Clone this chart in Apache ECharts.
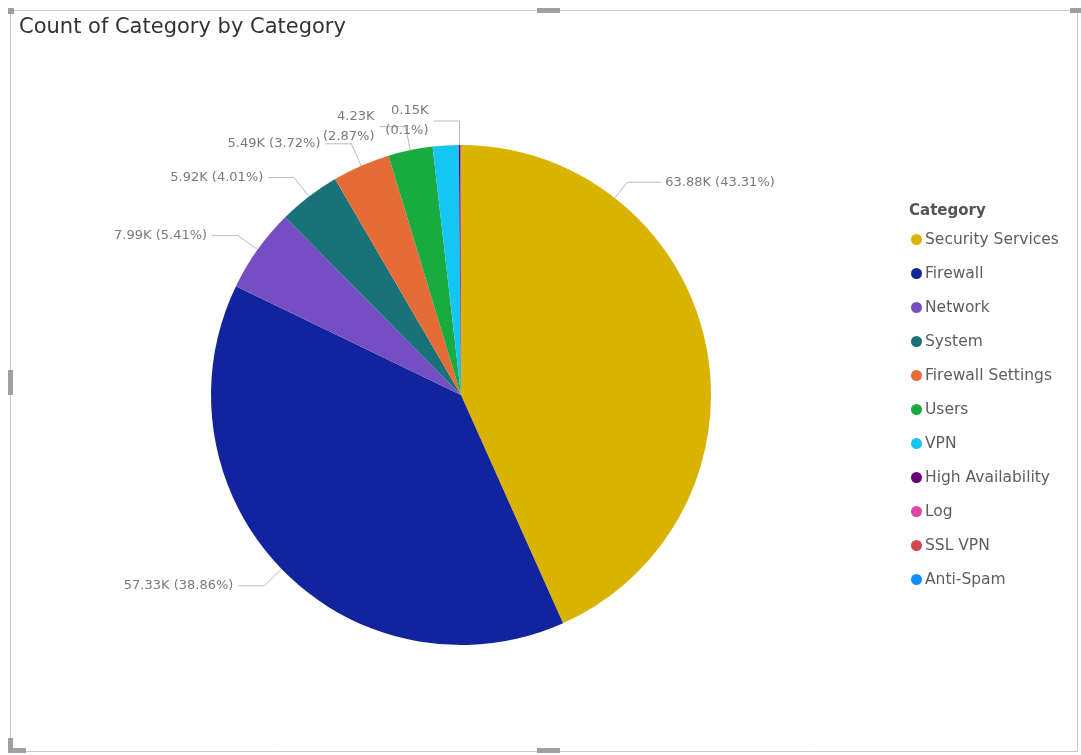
<!DOCTYPE html>
<html>
<head>
<meta charset="utf-8">
<title>Count of Category by Category</title>
<script src="https://cdn.jsdelivr.net/npm/echarts@6/dist/echarts.min.js"></script>
<style>
  html, body { margin: 0; padding: 0; background: #ffffff; }
  #chart { width: 1081px; height: 755px; }
</style>
</head>
<body>
<div id="chart"></div>
<script>
// Event counts per category
const categories = [
  'Security Services', 'Firewall', 'Network', 'System', 'Firewall Settings',
  'Users', 'VPN', 'High Availability', 'Log', 'SSL VPN', 'Anti-Spam'
];
const counts = [63884, 57326, 7986, 5920, 5490, 4230, 2469, 150, 30, 15, 10];
const colors = [
  '#D9B300', '#12239E', '#744EC2', '#197278', '#E66C37',
  '#1AAB40', '#15C6F4', '#6B007B', '#E044A7', '#D64550', '#118DFF'
];
// Slices whose data label is left off
const hiddenLabels = ['VPN', 'Log', 'SSL VPN', 'Anti-Spam'];

const total = counts.reduce((a, b) => a + b, 0);

function fmtPct(v) {
  let s = (v / total * 100).toFixed(2);
  s = s.replace(/0+$/, '').replace(/\.$/, '');
  return s;
}

const FONT = 'DejaVu Sans, Verdana, sans-serif';
const PIE_CENTER = [461, 395];
const PIE_RADIUS = 250;
// The largest slice's label is anchored nearer the top of its arc
const firstLabelAngle = 38; // degrees clockwise from 12 o'clock
const firstLabelLen = [20, 34];

const pieData = categories.map((name, i) => ({
  name: name,
  value: counts[i],
  itemStyle: { color: colors[i] },
  label: { show: hiddenLabels.indexOf(name) < 0 },
  labelLine: { show: hiddenLabels.indexOf(name) < 0 }
}));

const chart = echarts.init(document.getElementById('chart'), null, { renderer: 'canvas' });

const handleColor = '#a0a0a0';
const frameColor = '#c8c8c8';

chart.setOption({
  animation: false,
  backgroundColor: '#ffffff',
  textStyle: { fontFamily: FONT },
  title: [
    {
      text: 'Count of Category by Category',
      left: 14, top: 12,
      textStyle: { fontSize: 21, fontWeight: 'normal', color: '#333333', fontFamily: FONT }
    },
    {
      text: 'Category',
      left: 904, top: 199,
      textStyle: { fontSize: 15, fontWeight: 'bold', color: '#555555', fontFamily: FONT }
    }
  ],
  legend: {
    orient: 'vertical',
    left: 906, top: 225,
    icon: 'circle',
    itemWidth: 11, itemHeight: 11,
    itemGap: 15,
    data: categories,
    textStyle: { fontSize: 15.5, color: '#605E5C', fontFamily: FONT, lineHeight: 19, padding: [0, 0, 0, -2] }
  },
  graphic: [
    { type: 'rect', shape: { x: 10.5, y: 10.5, width: 1067, height: 741 }, style: { fill: 'none', stroke: frameColor, lineWidth: 1 }, silent: true },
    { type: 'rect', shape: { x: 8, y: 8, width: 6, height: 6 }, style: { fill: handleColor }, silent: true },
    { type: 'rect', shape: { x: 537, y: 8, width: 23, height: 5 }, style: { fill: handleColor }, silent: true },
    { type: 'rect', shape: { x: 1070, y: 8, width: 11, height: 5 }, style: { fill: handleColor }, silent: true },
    { type: 'rect', shape: { x: 8, y: 370, width: 5, height: 25 }, style: { fill: handleColor }, silent: true },
    { type: 'rect', shape: { x: 8, y: 738, width: 5, height: 15 }, style: { fill: handleColor }, silent: true },
    { type: 'rect', shape: { x: 8, y: 748, width: 18, height: 5 }, style: { fill: handleColor }, silent: true },
    { type: 'rect', shape: { x: 537, y: 748, width: 23, height: 5 }, style: { fill: handleColor }, silent: true }
  ],
  series: [
    {
      type: 'pie',
      center: PIE_CENTER,
      radius: PIE_RADIUS,
      startAngle: 90,
      clockwise: true,
      avoidLabelOverlap: false,
      data: pieData,
      itemStyle: { borderWidth: 0 },
      emphasis: { disabled: true },
      label: {
        show: true,
        position: 'outside',
        fontSize: 13,
        color: '#7a7a7a',
        fontFamily: FONT,
        lineHeight: 20,
        formatter: function (p) {
          const pct = p.value / total * 100;
          const sep = pct < 3 ? '\n' : ' ';
          return (p.value / 1000).toFixed(2) + 'K' + sep + '(' + fmtPct(p.value) + '%)';
        }
      },
      labelLine: {
        show: true,
        length: 24,
        length2: 26,
        lineStyle: { color: '#bbbbbb', width: 1 }
      },
      labelLayout: function (params) {
        if (params.dataIndex !== 0) return {};
        const a = firstLabelAngle * Math.PI / 180;
        const cx = PIE_CENTER[0], cy = PIE_CENTER[1];
        const p0 = [cx + PIE_RADIUS * Math.sin(a), cy - PIE_RADIUS * Math.cos(a)];
        const r1 = PIE_RADIUS + firstLabelLen[0];
        const p1 = [cx + r1 * Math.sin(a), cy - r1 * Math.cos(a)];
        const p2 = [p1[0] + firstLabelLen[1], p1[1]];
        return {
          x: p2[0] + 4,
          y: p2[1],
          align: 'left',
          verticalAlign: 'middle',
          labelLinePoints: [p0, p1, p2]
        };
      }
    }
  ]
});
</script>
</body>
</html>
